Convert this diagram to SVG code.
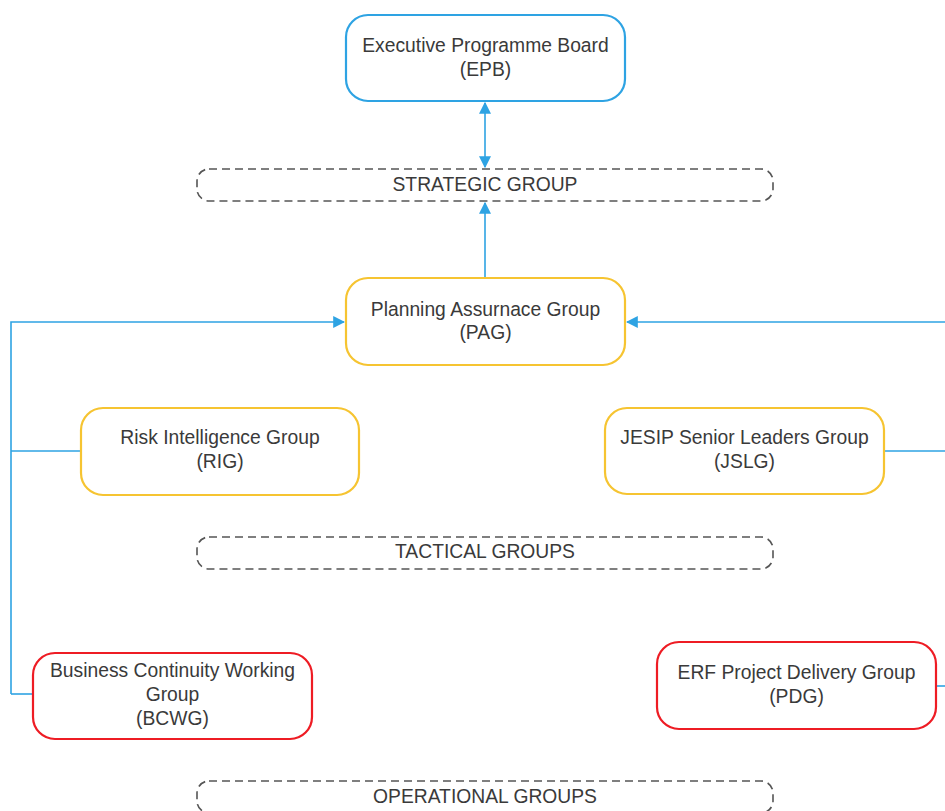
<svg xmlns="http://www.w3.org/2000/svg" width="945" height="811" viewBox="0 0 945 811">
<style>
.node{fill:#fff;stroke-width:2.2}
.blue{stroke:#2ea3e3}
.yellow{stroke:#f6c431}
.red{stroke:#ee1c24}
.band{fill:#fff;stroke:#555;stroke-width:1.6;stroke-dasharray:8 5}
text{font-family:"Liberation Sans",Arial,sans-serif;font-size:19.3px;fill:#3a3a3a;text-anchor:middle}
.conn{fill:none;stroke:#2ea3e3;stroke-width:1.6}
</style>
<defs>
<marker id="ah" viewBox="0 0 10 10" refX="9" refY="5" markerWidth="12" markerHeight="12" markerUnits="userSpaceOnUse" orient="auto-start-reverse">
<path d="M0,0 L10,5 L0,10 z" fill="#2ea3e3"/>
</marker>
</defs>
<rect width="945" height="811" fill="#fff"/>
<g id="connectors">
<path class="conn" d="M485,103 L485,167" marker-start="url(#ah)" marker-end="url(#ah)"/>
<path class="conn" d="M485,278 L485,203" marker-end="url(#ah)"/>
<path class="conn" d="M11,694 L11,322 L344,322" marker-end="url(#ah)"/>
<path class="conn" d="M11,451 L81,451"/>
<path class="conn" d="M11,694 L33,694"/>
<path class="conn" d="M946,322 L627,322" marker-end="url(#ah)"/>
<path class="conn" d="M884,451 L946,451"/>
<path class="conn" d="M936,686 L946,686"/>
</g>
<g id="epb">
<rect class="node blue" x="346" y="15" width="279" height="86" rx="22"/>
<text x="485.5" y="52">Executive Programme Board</text>
<text x="485.5" y="76">(EPB)</text>
</g>
<g id="strategic">
<rect class="band" x="197" y="169" width="576" height="32" rx="12"/>
<text x="485" y="191">STRATEGIC GROUP</text>
</g>
<g id="pag">
<rect class="node yellow" x="346" y="278" width="279" height="87" rx="22"/>
<text x="485.5" y="316">Planning Assurnace Group</text>
<text x="485.5" y="339">(PAG)</text>
</g>
<g id="rig">
<rect class="node yellow" x="81" y="408" width="278" height="87" rx="22"/>
<text x="220" y="444">Risk Intelligence Group</text>
<text x="220" y="468">(RIG)</text>
</g>
<g id="jslg">
<rect class="node yellow" x="605" y="408" width="279" height="86" rx="22"/>
<text x="744.5" y="444">JESIP Senior Leaders Group</text>
<text x="744.5" y="468">(JSLG)</text>
</g>
<g id="tactical">
<rect class="band" x="197" y="537" width="576" height="32" rx="12"/>
<text x="485" y="558">TACTICAL GROUPS</text>
</g>
<g id="bcwg">
<rect class="node red" x="33" y="653" width="279" height="86" rx="22"/>
<text x="172.5" y="677">Business Continuity Working</text>
<text x="172.5" y="701">Group</text>
<text x="172.5" y="725">(BCWG)</text>
</g>
<g id="pdg">
<rect class="node red" x="657" y="642" width="279" height="87" rx="22"/>
<text x="796.5" y="679">ERF Project Delivery Group</text>
<text x="796.5" y="703">(PDG)</text>
</g>
<g id="operational">
<rect class="band" x="197" y="781" width="576" height="32" rx="12"/>
<text x="485" y="803">OPERATIONAL GROUPS</text>
</g>
</svg>
